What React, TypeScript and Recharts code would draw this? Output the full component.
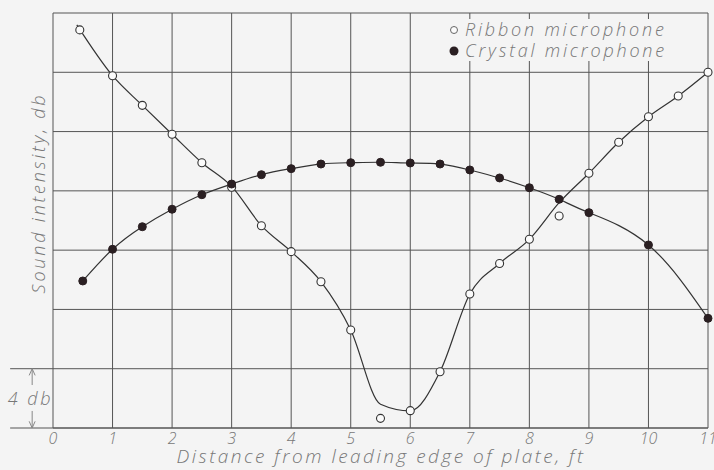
import React from 'react';
import {
  ComposedChart,
  Line,
  Scatter,
  XAxis,
  YAxis,
  CartesianGrid,
  ReferenceLine,
  ReferenceDot,
} from 'recharts';

// ---- data ----
const xTicks = [0, 1, 2, 3, 4, 5, 6, 7, 8, 9, 10, 11];
const yTicks = [0, 4, 8, 12, 16, 20, 24, 28];

const ribbonX = [0.45, 1, 1.5, 2, 2.5, 3, 3.5, 4, 4.5, 5, 5.5, 6, 6.5, 7, 7.5, 8, 8.5, 9, 9.5, 10, 10.5, 11];
const ribbonDb = [26.86, 23.77, 21.77, 19.82, 17.9, 16.24, 13.65, 11.9, 9.87, 6.61, 0.65, 1.17, 3.8, 9.04, 11.1, 12.73, 14.3, 17.19, 19.28, 21.0, 22.4, 24.0];

// the faired curve drawn through the ribbon points
const ribbonCurveX = [0.4, 1, 1.5, 2, 2.5, 3, 3.5, 4, 4.5, 5, 5.5, 6, 6.5, 7, 7.5, 8, 8.5, 9, 9.5, 10, 10.5, 11];
const ribbonCurveDb = [27.2, 23.77, 21.77, 19.82, 17.9, 16.3, 13.65, 11.9, 9.87, 6.61, 1.6, 1.15, 3.8, 9.04, 11.1, 12.73, 15.2, 17.19, 19.28, 21.0, 22.4, 24.0];

const crystalX = [0.5, 1, 1.5, 2, 2.5, 3, 3.5, 4, 4.5, 5, 5.5, 6, 6.5, 7, 7.5, 8, 8.5, 9, 10, 11];
const crystalDb = [9.92, 12.06, 13.58, 14.76, 15.74, 16.46, 17.09, 17.5, 17.81, 17.9, 17.93, 17.88, 17.81, 17.41, 16.87, 16.21, 15.43, 14.53, 12.35, 7.4];

const legendLabels = ['Ribbon microphone', 'Crystal microphone'];

const ribbonPts = ribbonX.map((x, i) => ({ x, y: ribbonDb[i] }));
const ribbonCurve = ribbonCurveX.map((x, i) => ({ x, y: ribbonCurveDb[i] }));
const crystalPts = crystalX.map((x, i) => ({ x, y: crystalDb[i] }));

const INK = '#333';
const GRID = '#555';
const TEXT = '#777';
const FONT = '"Open Sans", "DejaVu Sans", sans-serif';

const textStyle: React.CSSProperties = {
  fontFamily: FONT,
  fontStyle: 'italic',
  fontWeight: 300,
};

const OpenDot = (props: any) => {
  const { cx, cy } = props;
  if (cx == null || cy == null) return null;
  return <circle cx={cx} cy={cy} r={4} fill="#fbfbfb" stroke={INK} strokeWidth={1.1} />;
};
const FilledDot = (props: any) => {
  const { cx, cy } = props;
  if (cx == null || cy == null) return null;
  return <circle cx={cx} cy={cy} r={4} fill="#2a1f22" stroke="#2a1f22" strokeWidth={1} />;
};

const seg = (x1: number, y1: number, x2: number, y2: number) => [
  { x: x1, y: y1 },
  { x: x2, y: y2 },
];

const NoTick = () => <g />;

export default function App() {
  return (
    <div style={{ position: 'absolute', left: 0, top: 0, width: 714, height: 470, background: '#f4f4f4' }}>
      <ComposedChart
        width={714}
        height={470}
        margin={{ top: 13, right: 6, bottom: 0, left: 0 }}
      >
        <CartesianGrid stroke={GRID} strokeWidth={1} />
        <XAxis
          type="number"
          dataKey="x"
          domain={[0, 11]}
          ticks={xTicks}
          interval={0}
          height={42}
          tickLine={false}
          axisLine={{ stroke: GRID }}
          tickSize={0}
          tickMargin={5}
          tick={{ fill: TEXT, fontSize: 16, ...textStyle }}
          label={{
            content: () => (
              <text
                x={381}
                y={463}
                textAnchor="middle"
                fill={TEXT}
                fontSize={19}
                style={{ ...textStyle, letterSpacing: 2.5 }}
              >
                Distance from leading edge of plate, ft
              </text>
            ),
          }}
        />
        <YAxis
          type="number"
          dataKey="y"
          domain={[0, 28]}
          ticks={yTicks}
          interval={0}
          width={53}
          tick={NoTick}
          tickLine={false}
          axisLine={false}
          label={{
            content: () => (
              <text
                x={0}
                y={0}
                transform="translate(45 193) rotate(-90)"
                textAnchor="middle"
                fill={TEXT}
                fontSize={18}
                style={{ ...textStyle, letterSpacing: 2.8 }}
              >
                Sound intensity, db
              </text>
            ),
          }}
        />

        {/* 4 db scale marker */}
        <ReferenceLine segment={seg(-0.72, 4, 0, 4)} stroke={GRID} ifOverflow="visible" />
        <ReferenceLine segment={seg(-0.72, 0, 0, 0)} stroke={GRID} ifOverflow="visible" />
        <ReferenceLine segment={seg(-0.35, 4, -0.35, 2.9)} stroke="#888" ifOverflow="visible" />
        <ReferenceLine segment={seg(-0.35, 1.15, -0.35, 0)} stroke="#888" ifOverflow="visible" />
        <ReferenceLine segment={seg(-0.35, 4, -0.4, 3.55)} stroke="#888" ifOverflow="visible" />
        <ReferenceLine segment={seg(-0.35, 4, -0.3, 3.55)} stroke="#888" ifOverflow="visible" />
        <ReferenceLine segment={seg(-0.35, 0, -0.4, 0.45)} stroke="#888" ifOverflow="visible" />
        <ReferenceLine segment={seg(-0.35, 0, -0.3, 0.45)} stroke="#888" ifOverflow="visible" />
        <ReferenceDot
          x={-0.38}
          y={2}
          r={0}
          fill="none"
          stroke="none"
          ifOverflow="visible"
          label={{
            value: '4 db',
            position: 'center',
            fill: TEXT,
            fontSize: 18,
            style: { ...textStyle, letterSpacing: 2.5 },
          }}
        />

        <Line
          data={ribbonCurve}
          dataKey="y"
          type="monotone"
          stroke={INK}
          strokeWidth={1.2}
          dot={false}
          activeDot={false}
          isAnimationActive={false}
          legendType="none"
        />
        <Line
          data={crystalPts}
          dataKey="y"
          type="natural"
          stroke={INK}
          strokeWidth={1.2}
          dot={false}
          activeDot={false}
          isAnimationActive={false}
          legendType="none"
        />
        <Scatter data={ribbonPts} dataKey="y" shape={OpenDot} isAnimationActive={false} />
        <Scatter data={crystalPts} dataKey="y" shape={FilledDot} isAnimationActive={false} />
      </ComposedChart>

      {/* legend */}
      <div
        style={{
          position: 'absolute',
          left: 443,
          top: 19,
          ...textStyle,
          color: TEXT,
          fontSize: 18,
          lineHeight: '21px',
          letterSpacing: 2.8,
          background: '#f4f4f4',
          padding: '0 4px',
          whiteSpace: 'nowrap',
        }}
      >
        <div style={{ display: 'flex', alignItems: 'center' }}>
          <svg width={14} height={21}>
            <circle cx={7} cy={11} r={3.5} fill="#fbfbfb" stroke="#666" strokeWidth={1} />
          </svg>
          <span style={{ marginLeft: 4 }}>{legendLabels[0]}</span>
        </div>
        <div style={{ display: 'flex', alignItems: 'center' }}>
          <svg width={14} height={21}>
            <circle cx={7} cy={11} r={4.5} fill="#2a1f22" />
          </svg>
          <span style={{ marginLeft: 4 }}>{legendLabels[1]}</span>
        </div>
      </div>
    </div>
  );
}
